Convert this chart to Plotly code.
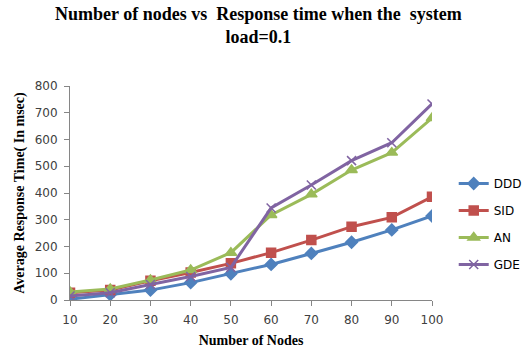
import plotly.graph_objects as go

nodes = [10, 20, 30, 40, 50, 60, 70, 80, 90, 100]
ddd = [3, 20, 37, 65, 98, 133, 174, 216, 262, 314]
sid = [27, 37, 72, 103, 137, 177, 224, 274, 309, 386]
an = [30, 41, 75, 112, 177, 318, 395, 486, 551, 680]
gde = [15, 27, 58, 88, 122, 344, 430, 521, 588, 733]

series = [
    ("DDD", ddd, "#4F81BD", "diamond", 9),
    ("SID", sid, "#C0504D", "square", 9),
    ("AN", an, "#9BBB59", "triangle-up", 10),
    ("GDE", gde, "#8064A2", "x-thin-open", 9),
]

fig = go.Figure()
for name, vals, color, sym, sz in series:
    fig.add_trace(go.Scatter(
        x=nodes, y=vals, name=name, mode="lines+markers",
        legendgroup=name,
        line=dict(color=color, width=3),
        marker=dict(symbol=sym, size=sz, color=color,
                    line=dict(color=color, width=1.5)),
    ))

serif = "Liberation Serif"
fig.update_layout(
    width=522, height=355,
    margin=dict(l=70, r=90, t=86, b=55, autoexpand=False),
    paper_bgcolor="white", plot_bgcolor="white",
    title=dict(
        text="<b>Number of nodes vs  Response time when the  system<br>load=0.1</b>",
        x=0.495, xanchor="center", y=1 - 20 / 355, yanchor="middle",
        font=dict(family=serif, size=18, color="black"),
    ),
    legend=dict(
        x=1.06, xanchor="left", y=0.355, yanchor="middle",
        font=dict(family="DejaVu Sans", size=12, color="black"),
        itemwidth=30, tracegroupgap=8, bgcolor="rgba(0,0,0,0)",
    ),
    showlegend=True,
)
fig.update_xaxes(
    range=[10, 100], tickvals=nodes, ticktext=[str(n) for n in nodes],
    showgrid=False, zeroline=False, showline=True, linecolor="#868686", linewidth=1,
    ticks="outside", ticklen=5, tickcolor="#868686", ticklabelstandoff=4,
    tickfont=dict(family="DejaVu Sans", size=12, color="#404040"),
    title=dict(text="<b>Number of Nodes</b>", font=dict(family=serif, size=14, color="black"), standoff=8),
)
fig.update_yaxes(
    range=[0, 800], dtick=100,
    showgrid=False, zeroline=False, showline=True, linecolor="#868686", linewidth=1,
    ticks="outside", ticklen=5, tickcolor="#868686", ticklabelstandoff=4,
    tickfont=dict(family="DejaVu Sans", size=12, color="#404040"),
    title=dict(text="<b>Average Response Time( In msec)</b>", font=dict(family=serif, size=14, color="black"), standoff=6),
)

fig.write_html("out.html")
